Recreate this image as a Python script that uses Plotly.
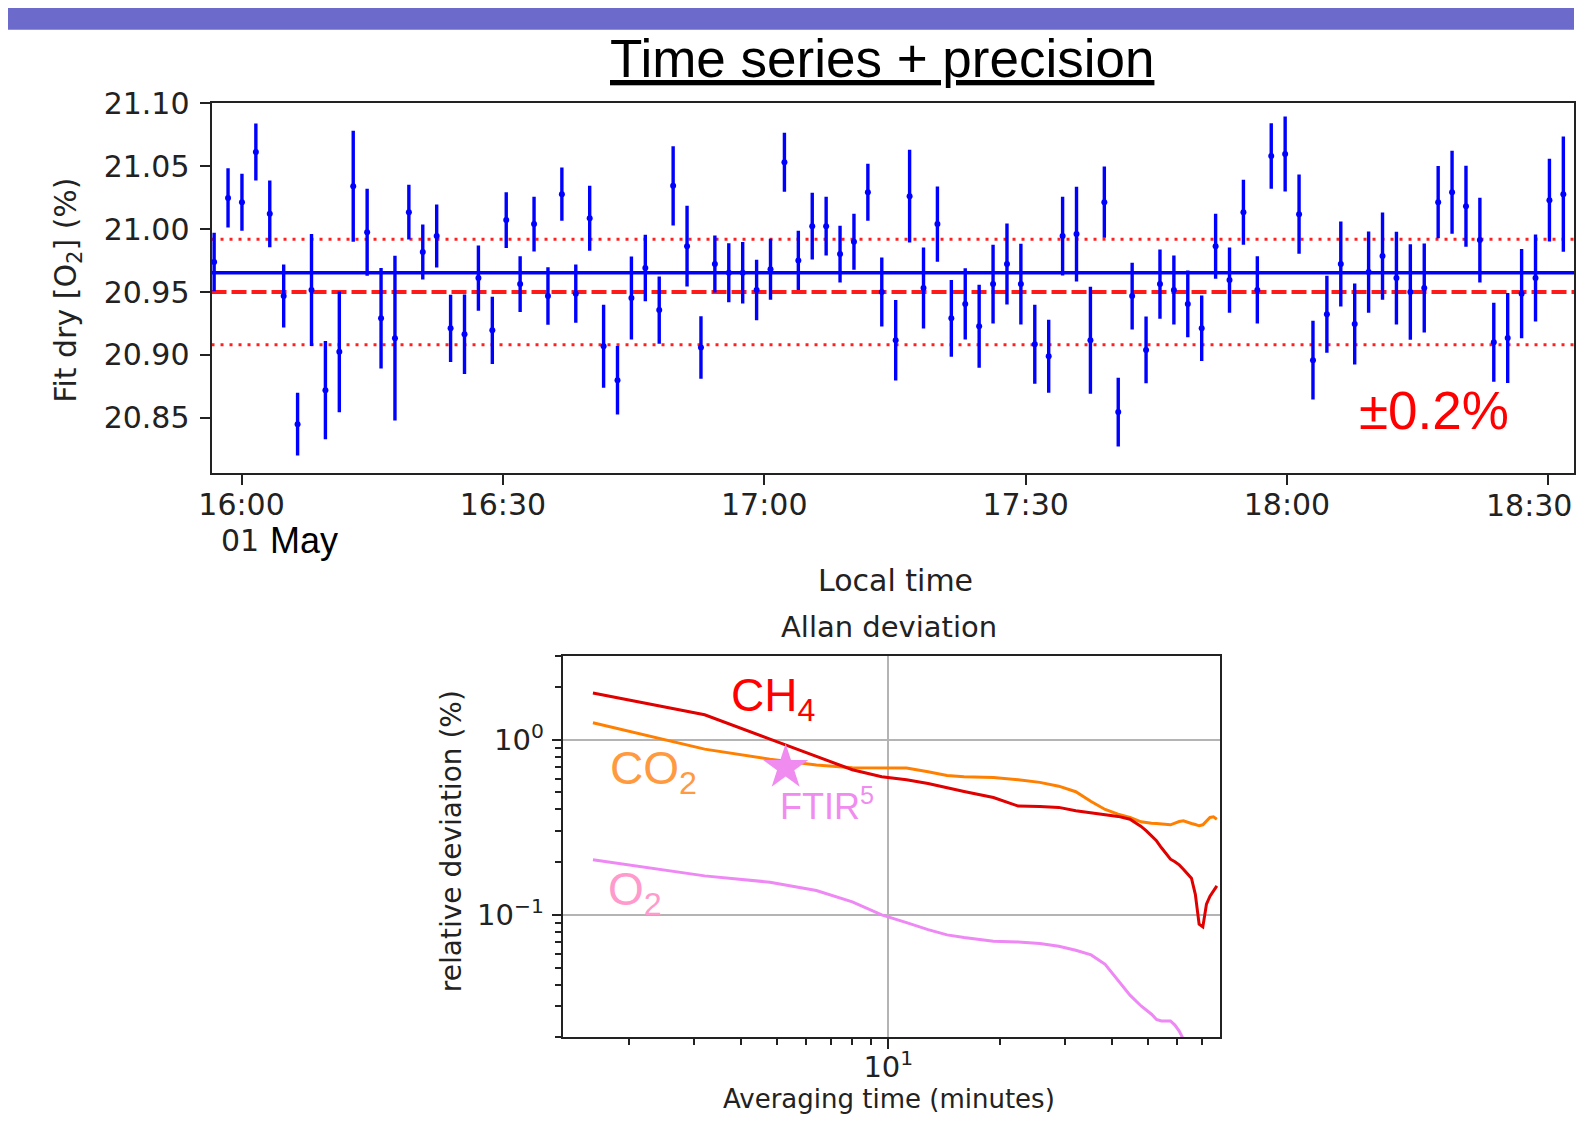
import numpy as np
import pandas as pd
import plotly.graph_objects as go

# The figure is 1568x1107 inside the page's default 8 px body margin.
# Positions below are given in the 1584x1123 picture pixels and mapped to
# figure coordinates with the measured page -> picture transform.
PAGE_W, PAGE_H = 1584, 1123
OFF_X, OFF_Y = 8, 8
FW, FH = PAGE_W - 2 * OFF_X, PAGE_H - 2 * OFF_Y
SHOT_AX, SHOT_SX = 13.3, 0.9902
SHOT_AY, SHOT_SY = 15.9, 0.9858

# ---------------- data: time series ----------------
T_START = "2019-05-01 15:56:51"
T_STEP_S = 95.8
O2_FIT = [20.9738, 21.0247, 21.0213, 21.0612, 21.0121, 20.9468, 20.8451, 20.9516, 20.8721, 20.9025,
          21.0340, 20.9975, 20.9291, 20.9133, 21.0134, 20.9817, 20.9944, 20.9212, 20.9165, 20.9611,
          20.9196, 21.0071, 20.9563, 21.0039, 20.9468, 21.0277, 20.9487, 21.0086, 20.9069, 20.8800,
          20.9452, 20.9690, 20.9357, 21.0343, 20.9864, 20.9059, 20.9722, 20.9653, 20.9653, 20.9516,
          20.9680, 21.0530, 20.9751, 21.0023, 21.0023, 20.9801, 20.9899, 21.0292, 20.9500, 20.9117,
          21.0261, 20.9532, 21.0039, 20.9291, 20.9405, 20.9228, 20.9563, 20.9722, 20.9563, 20.9085,
          20.8990, 20.9944, 20.9960, 20.9117, 21.0213, 20.8547, 20.9468, 20.9040, 20.9563, 20.9516,
          20.9405, 20.9212, 20.9864, 20.9595, 21.0134, 20.9516, 21.0580, 21.0596, 21.0118, 20.8959,
          20.9323, 20.9722, 20.9246, 20.9658, 20.9785, 20.9611, 20.9500, 20.9532, 21.0213, 21.0292,
          21.0181, 20.9912, 20.9101, 20.9135, 20.9487, 20.9611, 21.0229, 21.0277, 20.9135]
O2_ERR = [0.0232, 0.0235, 0.0226, 0.0226, 0.0265, 0.0250, 0.0250, 0.0445, 0.0390, 0.0480,
          0.0441, 0.0345, 0.0399, 0.0654, 0.0217, 0.0218, 0.0250, 0.0267, 0.0316, 0.0259,
          0.0267, 0.0221, 0.0221, 0.0218, 0.0228, 0.0211, 0.0232, 0.0258, 0.0329, 0.0272,
          0.0330, 0.0264, 0.0267, 0.0314, 0.0320, 0.0248, 0.0226, 0.0234, 0.0244, 0.0240,
          0.0242, 0.0234, 0.0236, 0.0265, 0.0234, 0.0225, 0.0222, 0.0226, 0.0273, 0.0320,
          0.0368, 0.0321, 0.0298, 0.0305, 0.0283, 0.0329, 0.0313, 0.0321, 0.0320, 0.0313,
          0.0289, 0.0312, 0.0376, 0.0424, 0.0283, 0.0273, 0.0265, 0.0265, 0.0275, 0.0273,
          0.0265, 0.0260, 0.0258, 0.0259, 0.0258, 0.0267, 0.0260, 0.0298, 0.0314, 0.0313,
          0.0306, 0.0338, 0.0321, 0.0322, 0.0346, 0.0368, 0.0379, 0.0353, 0.0287, 0.0330,
          0.0322, 0.0337, 0.0313, 0.0357, 0.0355, 0.0345, 0.0328, 0.0458, 0.0346]
O2_REF = 20.95          # reference atmospheric value (dashed)
REL_BAND = 0.002        # +-0.2 % band (dotted)
TS_XRANGE = ["2019-05-01 15:56:33", "2019-05-01 18:32:57"]
TS_YRANGE = [20.806, 21.1002]
TS_TICKS = ["2019-05-01 16:00", "2019-05-01 16:30", "2019-05-01 17:00",
            "2019-05-01 17:30", "2019-05-01 18:00", "2019-05-01 18:30"]
TS_TICKTEXT = ["16:00", "16:30", "17:00", "17:30", "18:00", ""]
LAST_TICK_LABEL = "18:30"      # drawn as an annotation so it stays inside the page
TS_YTICKS = [20.85, 20.90, 20.95, 21.00, 21.05, 21.10]

# ---------------- data: Allan deviation ----------------
TAU_MIN = [1.6, 3.2, 4.8, 6.4, 8.0, 9.6, 11.2, 12.8, 14.4, 16.0,
           19.2, 22.4, 25.6, 28.8, 32.0, 35.2, 38.4, 41.6, 44.8,
           48.0, 49.6, 51.2, 52.8, 54.4, 56.0, 57.6, 59.2, 60.8, 62.4,
           64.0, 65.6, 67.2, 68.8, 70.4, 72.0, 73.6, 75.2, 76.8]
ADEV_CH4 = [1.848, 1.389, 1.009, 0.800, 0.674, 0.615, 0.591, 0.563, 0.530, 0.507,
            0.468, 0.418, 0.416, 0.411, 0.393, 0.383, 0.373, 0.365, 0.352,
            0.320, 0.302, 0.283, 0.265, 0.2425, 0.224, 0.208, 0.201, 0.193, 0.1824,
            0.171, 0.162, 0.131, 0.0885, 0.0854, 0.115, 0.128, 0.136, 0.1466]
ADEV_CO2 = [1.251, 0.884, 0.775, 0.717, 0.692, 0.689, 0.689, 0.656, 0.625, 0.615,
            0.609, 0.591, 0.571, 0.543, 0.505, 0.444, 0.400, 0.376, 0.360,
            0.340, 0.3355, 0.334, 0.3325, 0.331, 0.328, 0.3268, 0.334, 0.3414, 0.3444,
            0.340, 0.3325, 0.328, 0.3226, 0.3268, 0.3444, 0.360, 0.363, 0.352]
ADEV_O2 = [0.2062, 0.167, 0.1537, 0.1377, 0.1187, 0.100, 0.0904, 0.0824, 0.0769, 0.0742,
           0.0707, 0.0701, 0.0686, 0.0662, 0.0628, 0.0591, 0.0522, 0.0423, 0.0348,
           0.0302, 0.0285, 0.0271, 0.0253, 0.0248, 0.0248, 0.0248, 0.0235, 0.0217, 0.0195,
           0.0186]
FTIR_TAU = [5.29]
FTIR_DEV = [0.695]
AD_XRANGE = [0.1224, 1.894]      # log10 minutes
AD_YRANGE = [np.log10(0.02), np.log10(3.0)]

# ---------------- figure ----------------
def px(x):
    return ((x - SHOT_AX) / SHOT_SX - OFF_X) / FW

def py(y):
    return 1 - ((y - SHOT_AY) / SHOT_SY - OFF_Y) / FH

times = pd.Timestamp(T_START) + pd.to_timedelta(np.arange(len(O2_FIT)) * T_STEP_S, unit="s")
o2_mean = float(np.mean(O2_FIT))

fig = go.Figure()

fig.add_trace(go.Scatter(
    x=times, y=O2_FIT, mode="markers", xaxis="x", yaxis="y",
    marker=dict(color="#0000FF", size=6),
    error_y=dict(type="data", array=O2_ERR, color="#0000FF", thickness=3.4, width=0),
    showlegend=False, hoverinfo="skip"))

BLUE_LINE = dict(color="#0000FF", width=3.5)
RED_DASH = dict(color="#FF1A1A", width=4, dash="15px,5px")
RED_DOT = dict(color="#FF2020", width=3, dash="3px,6px")
shapes = [
    # header band: allowed to spill over the top/left page margin
    dict(type="rect", xref="paper", yref="paper", x0=px(0) - 0.01, x1=1, y0=py(28.5), y1=py(0) + 0.01,
         fillcolor="#6C6BCC", line=dict(width=0), layer="above"),
    dict(type="line", xref="x domain", yref="y", x0=0, x1=1, y0=o2_mean, y1=o2_mean,
         line=BLUE_LINE, layer="below"),
    dict(type="line", xref="x domain", yref="y", x0=0, x1=1, y0=O2_REF, y1=O2_REF,
         line=RED_DASH, layer="below"),
    dict(type="line", xref="x domain", yref="y", x0=0, x1=1,
         y0=O2_REF * (1 + REL_BAND), y1=O2_REF * (1 + REL_BAND), line=RED_DOT, layer="below"),
    dict(type="line", xref="x domain", yref="y", x0=0, x1=1,
         y0=O2_REF * (1 - REL_BAND), y1=O2_REF * (1 - REL_BAND), line=RED_DOT, layer="below"),
]

# Allan deviation
fig.add_trace(go.Scatter(x=TAU_MIN[:len(ADEV_CO2)], y=ADEV_CO2, mode="lines", xaxis="x2", yaxis="y2",
                         line=dict(color="#FF8000", width=3), showlegend=False, hoverinfo="skip"))
fig.add_trace(go.Scatter(x=TAU_MIN[:len(ADEV_CH4)], y=ADEV_CH4, mode="lines", xaxis="x2", yaxis="y2",
                         line=dict(color="#E00000", width=3), showlegend=False, hoverinfo="skip"))
fig.add_trace(go.Scatter(x=TAU_MIN[:len(ADEV_O2)], y=ADEV_O2, mode="lines", xaxis="x2", yaxis="y2",
                         line=dict(color="#EE88F4", width=3), showlegend=False, hoverinfo="skip"))
fig.add_trace(go.Scatter(x=FTIR_TAU, y=FTIR_DEV, mode="markers", xaxis="x2", yaxis="y2",
                         marker=dict(symbol="star", size=34, color="#F08CF0", line=dict(width=0)),
                         showlegend=False, hoverinfo="skip"))

AXC = "#222222"
TICKF = dict(family="DejaVu Sans", size=30, color="#222222")
TICKF2 = dict(family="DejaVu Sans", size=29, color="#222222")

fig.update_layout(
    width=FW, height=FH, margin=dict(l=0, r=0, t=0, b=0),
    paper_bgcolor="white", plot_bgcolor="white",
    font=dict(family="DejaVu Sans", color="#222222"),
    showlegend=False,
    shapes=shapes,
    xaxis=dict(domain=[px(211.7), 1.0], anchor="y", type="date", range=TS_XRANGE,
               tickmode="array", tickvals=TS_TICKS, ticktext=TS_TICKTEXT, tickfont=TICKF,
               ticks="outside", ticklen=10, tickwidth=2, tickcolor=AXC,
               showline=True, linecolor=AXC, linewidth=2, mirror=True, showgrid=False,
               zeroline=False, ticklabelstandoff=-6),
    yaxis=dict(domain=[py(472.7), py(101.7)], anchor="x", range=TS_YRANGE,
               tickmode="array", tickvals=TS_YTICKS, tickformat=".2f", tickfont=TICKF,
               ticks="outside", ticklen=10, tickwidth=2, tickcolor=AXC,
               showline=True, linecolor=AXC, linewidth=2, mirror=True, showgrid=False,
               zeroline=False, ticklabelstandoff=4),
    xaxis2=dict(domain=[px(562.7), px(1220)], anchor="y2", type="log", range=AD_XRANGE,
                tickmode="array", tickvals=[10], ticktext=["10<sup>1</sup>"], tickfont=TICKF2,
                ticks="outside", ticklen=10, tickwidth=1.8, tickcolor=AXC,
                minor=dict(tickmode="array", tickvals=[2, 3, 4, 5, 6, 7, 8, 9, 20, 30, 40, 50, 60, 70],
                           ticks="outside", ticklen=6, tickwidth=1.5, tickcolor=AXC, showgrid=False),
                showline=True, linecolor=AXC, linewidth=2, mirror=True,
                showgrid=True, gridcolor="#B4B4B4", gridwidth=1.5, zeroline=False,
                ticklabelstandoff=-7),
    yaxis2=dict(domain=[py(1037.3), py(655.7)], anchor="x2", type="log", range=AD_YRANGE,
                tickmode="array", tickvals=[0.1, 1], ticktext=["10<sup>\u22121</sup>", "10<sup>0</sup>"],
                tickfont=TICKF2,
                ticks="outside", ticklen=9, tickwidth=1.8, tickcolor=AXC,
                minor=dict(tickmode="array",
                           tickvals=[0.02, 0.03, 0.04, 0.05, 0.06, 0.07, 0.08, 0.09,
                                     0.2, 0.3, 0.4, 0.5, 0.6, 0.7, 0.8, 0.9, 2, 3],
                           ticks="outside", ticklen=6, tickwidth=1.5, tickcolor=AXC, showgrid=False),
                showline=True, linecolor=AXC, linewidth=2, mirror=True,
                showgrid=True, gridcolor="#B4B4B4", gridwidth=1.5, zeroline=False,
                ticklabelstandoff=2),
)

ARIAL = "Liberation Sans"
annotations = [
    dict(text="<u>Time series + precision</u>", x=px(882), y=py(57), xanchor="center", yanchor="middle",
         font=dict(family=ARIAL, size=53, color="#000000")),
    dict(text="Fit dry [O<sub>2</sub>] (%)", x=px(68), y=py(289), xanchor="center", yanchor="middle",
         textangle=-90, font=dict(family="DejaVu Sans", size=30, color="#222222")),
    dict(text="Local time", x=px(896), y=py(580), xanchor="center", yanchor="middle",
         font=dict(family="DejaVu Sans", size=30, color="#222222")),
    dict(text=LAST_TICK_LABEL, x=1.0, y=py(505), xanchor="right", yanchor="middle",
         font=dict(family="DejaVu Sans", size=30, color="#222222")),
    dict(text="01", x=px(240.5), y=py(540), xanchor="center", yanchor="middle",
         font=dict(family="DejaVu Sans", size=30, color="#222222")),
    dict(text="May", x=px(268), y=py(540), xanchor="left", yanchor="middle",
         font=dict(family=ARIAL, size=36, color="#000000")),
    dict(text="\u00b10.2%", x=px(1434), y=py(410), xanchor="center", yanchor="middle",
         font=dict(family=ARIAL, size=53, color="#FF0000")),
    dict(text="Allan deviation", x=px(889.5), y=py(626), xanchor="center", yanchor="middle",
         font=dict(family="DejaVu Sans", size=29, color="#222222")),
    dict(text="relative deviation (%)", x=px(451), y=py(841), xanchor="center", yanchor="middle",
         textangle=-90, font=dict(family="DejaVu Sans", size=28, color="#222222")),
    dict(text="Averaging time (minutes)", x=px(889), y=0.0, xanchor="center", yanchor="bottom",
         borderpad=0, font=dict(family="DejaVu Sans", size=26, color="#222222")),
    dict(text="CH<sub>4</sub>", x=px(729), y=py(698), xanchor="left", yanchor="middle",
         font=dict(family=ARIAL, size=46, color="#FF0000")),
    dict(text="CO<sub>2</sub>", x=px(608), y=py(771), xanchor="left", yanchor="middle",
         font=dict(family=ARIAL, size=46, color="#FF9A40")),
    dict(text="O<sub>2</sub>", x=px(606), y=py(892), xanchor="left", yanchor="middle",
         font=dict(family=ARIAL, size=46, color="#FF9ACD")),
    dict(text="FTIR<sup>5</sup>", x=px(778), y=py(804), xanchor="left", yanchor="middle",
         font=dict(family=ARIAL, size=36, color="#F08CF0")),
]
for a in annotations:
    a.update(xref="paper", yref="paper", showarrow=False)
fig.update_layout(annotations=annotations)

fig.write_html("out.html", config={"displayModeBar": False})
